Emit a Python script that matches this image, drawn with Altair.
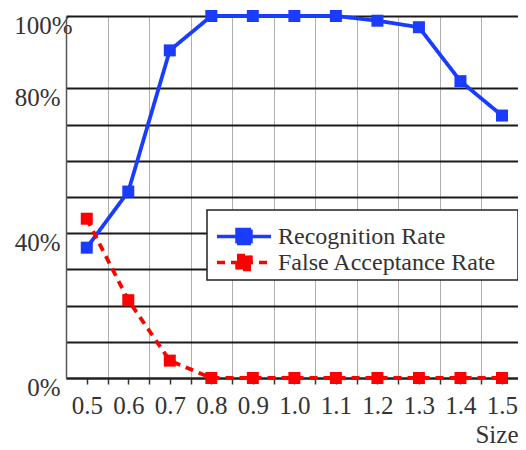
import altair as alt
import pandas as pd

# ---- data ----
SIZES = [0.5, 0.6, 0.7, 0.8, 0.9, 1.0, 1.1, 1.2, 1.3, 1.4, 1.5]
RECOGNITION = [36.0, 51.5, 90.5, 100.0, 100.0, 100.0, 100.0, 98.7, 96.9, 82.0, 72.5]
FALSE_ACCEPT = [44.0, 21.5, 4.8, 0.0, 0.0, 0.0, 0.0, 0.0, 0.0, 0.0, 0.0]
SERIES = ["Recognition Rate", "False Acceptance Rate"]
X_TICKS = [0.5, 0.55, 0.6, 0.65, 0.7, 0.75, 0.8, 0.85, 0.9, 0.95, 1.0,
           1.05, 1.1, 1.15, 1.2, 1.25, 1.3, 1.35, 1.4, 1.45, 1.5]
Y_GRID = [0, 10, 20, 30, 40, 50, 60, 70, 80, 100]
Y_LABELS = [0, 40, 80, 100]
COLORS = ["#1a3cff", "#ff0000"]
DASHES = [[1, 0], [8, 6]]

rows = []
for name, vals in zip(SERIES, [RECOGNITION, FALSE_ACCEPT]):
    for s, v in zip(SIZES, vals):
        rows.append({"size": s, "value": v, "series": name})
df = pd.DataFrame(rows)

FONT = "Liberation Serif"
TXT = "#333333"

x_axis = alt.Axis(
    values=X_TICKS,
    labelExpr="round(datum.value * 100) % 10 == 0 ? format(datum.value, '.1f') : ''",
    labelOverlap=False,
    labelFlush=False,
    labelFont=FONT, labelFontSize=25, labelColor=TXT, labelPadding=9,
    tickSize=6, tickColor="#333333", tickWidth=1.5,
    domainColor="#222222", domainWidth=2,
    grid=True, gridColor="#b0b0b0", gridWidth=1,
    gridOpacity={"condition": {"test": "round(datum.value * 100) % 10 == 5", "value": 1}, "value": 0},
    title="Size", titleAnchor="end", titleFont=FONT, titleFontSize=25,
    titleFontWeight="normal", titleColor=TXT, titlePadding=4,
)
y_lab_list = ", ".join(str(v) for v in Y_LABELS)
y_axis = alt.Axis(
    values=Y_GRID,
    labelExpr="indexof([" + y_lab_list + "], datum.value) >= 0 ? datum.value + '%' : ''",
    labelOverlap=False,
    labelFont=FONT, labelFontSize=25, labelColor=TXT,
    labelPadding={"condition": {"test": "datum.value == 100", "value": -6}, "value": 6},
    labelBaseline="top", labelOffset=-3,
    ticks=False, tickSize=0,
    domainColor="#555555", domainWidth=1.5,
    grid=True, gridColor="#1a1a1a", gridWidth=2,
)

x_enc = alt.X("size:Q", scale=alt.Scale(domain=[0.45, 1.5386], nice=False, zero=False), axis=x_axis)
y_enc = alt.Y("value:Q", scale=alt.Scale(domain=[0, 100], nice=False), axis=y_axis, title=None)

PATH = "M-3.375,0L3.375,0M-0.875,-0.875L0.875,-0.875L0.875,0.875L-0.875,0.875Z"
BLANK = "\u2800"
leg = alt.Legend(
    title=" ", titleFontSize=2, titlePadding=9.5,
    orient="none", legendX=141, legendY=194,
    symbolType=PATH, symbolSize=256, symbolStrokeWidth=3.5,
    symbolOffset=22, labelOffset=22, rowPadding=-2,
    labelFont=FONT, labelFontSize=24, labelColor=TXT, labelLimit=500,
    labelExpr="datum.label + '" + BLANK + "'",
    padding=3, strokeColor="#222222", fillColor="white", cornerRadius=0,
)

color_scale = alt.Scale(domain=SERIES, range=COLORS)

base = alt.Chart(df)
line = base.mark_line(strokeWidth=3.8).encode(
    x=x_enc, y=y_enc,
    stroke=alt.Stroke("series:N", scale=color_scale, legend=leg),
    strokeDash=alt.StrokeDash("series:N", scale=alt.Scale(domain=SERIES, range=DASHES), legend=leg),
)
pts = base.mark_square(size=144, filled=True, opacity=1).encode(
    x=x_enc, y=y_enc,
    fill=alt.Fill("series:N", scale=color_scale, legend=leg),
)

chart = alt.layer(line, pts).properties(
    width=452, height=362,
    padding={"left": 58, "top": 8, "right": 0, "bottom": 72},
    autosize=alt.AutoSizeParams(type="none"),
    background="white",
).configure_view(stroke=None).configure_legend(strokeWidth=1.5)

chart.save("out.html", embed_options={"renderer": "svg", "actions": False})
